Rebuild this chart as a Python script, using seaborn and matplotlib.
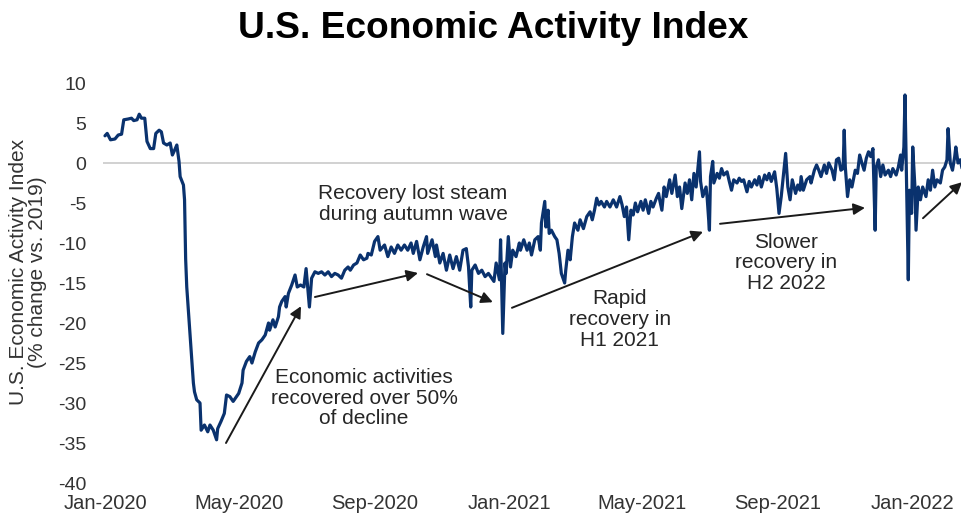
import pandas as pd
import matplotlib
matplotlib.use("Agg")
import matplotlib.pyplot as plt
import matplotlib.dates as mdates
import seaborn as sns

# Daily index, stored as day offsets from the series start and % change vs. 2019
SERIES_START = "2020-01-01"

day_offsets = [
    0, 2, 5, 9, 12, 15, 17, 21, 24, 26, 29, 31, 33, 36, 38, 41, 44, 46, 49, 51,
    53, 56, 59, 61, 63, 65, 67, 68, 71, 72, 73, 74, 75, 76, 77, 78, 79, 80, 81, 83,
    86, 87, 90, 93, 95, 98, 101, 102, 105, 108, 110, 113, 116, 121, 124, 125, 128, 131, 133, 136,
    139, 142, 145, 148, 149, 152, 154, 157, 158, 160, 163, 164, 166, 169, 172, 174, 177, 180, 182, 185,
    187, 190, 193, 196, 199, 202, 205, 208, 211, 214, 217, 220, 222, 225, 228, 231, 234, 237, 238, 241,
    244, 247, 249, 253, 256, 259, 262, 265, 268, 271, 274, 277, 279, 282, 285, 288, 291, 292, 296, 299,
    300, 303, 306, 309, 312, 315, 318, 321, 324, 327, 329, 331, 332, 335, 338, 341, 344, 347, 350, 352,
    354, 357, 358, 360, 362, 363, 365, 367, 369, 372, 375, 376, 379, 382, 384, 386, 389, 392, 394, 395,
    398, 399, 401, 402, 404, 407, 409, 411, 413, 416, 417, 419, 421, 423, 425, 428, 430, 433, 436, 439,
    441, 443, 445, 447, 449, 452, 454, 457, 460, 463, 466, 468, 470, 472, 474, 476, 478, 480, 482, 485,
    487, 489, 492, 494, 496, 499, 501, 502, 504, 506, 508, 511, 513, 516, 518, 520, 522, 525, 527, 529,
    531, 533, 535, 538, 539, 541, 544, 545, 547, 548, 550, 551, 554, 556, 558, 560, 563, 565, 567, 569,
    572, 574, 576, 578, 581, 583, 585, 588, 590, 592, 594, 597, 599, 601, 603, 606, 608, 610, 612, 614,
    616, 618, 620, 622, 625, 627, 629, 630, 632, 635, 638, 639, 642, 644, 646, 648, 651, 653, 655, 658,
    660, 662, 664, 666, 668, 669, 670, 672, 674, 676, 679, 681, 683, 685, 687, 689, 691, 693, 695, 697,
    698, 700, 702, 704, 706, 709, 711, 713, 716, 718, 720, 721, 723, 724, 725, 727, 728, 730, 731, 733,
    734, 736, 738, 740, 743, 745, 747, 749, 751, 753, 756, 758, 760, 762, 763, 765, 767, 769, 770, 772,
    774, 776, 778,
]

index_values = [
    3.4, 3.7, 2.9, 3.0, 3.5, 3.6, 5.4, 5.5, 5.6, 5.3, 5.4, 6.1, 5.6, 5.6, 2.7, 1.8, 1.8, 3.7, 4.1, 3.9,
    2.5, 2.25, 2.5, 1.0, 1.6, 2.25, 0.2, -1.7, -2.75, -4.6, -12.0, -15.5, -17.5, -19.5, -21.3, -23.5, -25.5, -27.5, -28.6, -29.6,
    -30.0, -33.4, -32.75, -33.6, -32.75, -33.4, -34.6, -33.2, -32.3, -31.3, -29.0, -29.2, -29.8, -28.8, -27.5, -25.9, -24.8, -24.2, -25.0, -23.6,
    -22.5, -22.1, -21.5, -20.0, -20.9, -19.6, -20.5, -19.2, -18.0, -17.3, -16.7, -18.0, -16.3, -15.25, -14.0, -15.5, -15.25, -15.5, -13.2, -18.0,
    -14.4, -13.6, -13.8, -13.6, -14.0, -13.6, -14.2, -13.8, -14.0, -14.4, -13.4, -13.0, -13.4, -12.75, -12.5, -11.5, -12.1, -11.9, -11.3, -11.5,
    -9.8, -9.2, -10.9, -10.25, -11.7, -10.5, -11.3, -10.25, -10.9, -10.25, -10.9, -10.0, -11.3, -9.8, -12.1, -10.5, -9.2, -11.3, -9.6, -11.7,
    -10.25, -12.5, -11.3, -13.4, -11.5, -13.2, -11.7, -13.4, -10.9, -10.7, -13.0, -18.0, -13.4, -12.75, -13.8, -13.4, -14.2, -13.8, -14.4, -14.8,
    -12.5, -14.6, -9.6, -21.3, -12.5, -13.8, -9.2, -13.0, -10.9, -11.7, -10.0, -10.9, -9.6, -10.9, -10.0, -11.5, -9.6, -9.2, -10.9, -7.5,
    -4.8, -8.0, -5.9, -8.8, -8.4, -9.2, -9.6, -11.3, -13.8, -15.0, -13.4, -10.9, -12.1, -9.2, -7.5, -8.4, -7.1, -8.2, -6.7, -6.1,
    -7.1, -5.9, -4.4, -5.25, -4.8, -5.5, -4.8, -5.5, -4.6, -5.5, -4.2, -5.25, -6.7, -5.5, -9.6, -5.9, -6.5, -5.0, -6.1, -4.8,
    -5.9, -4.6, -6.3, -4.8, -5.5, -4.4, -3.8, -4.6, -5.9, -3.0, -4.2, -2.1, -3.8, -1.5, -4.2, -3.0, -5.7, -2.5, -3.8, -2.1,
    -4.6, -1.3, -3.0, 1.4, -2.3, -4.2, -3.0, -4.4, -8.4, -1.7, 0.2, -2.5, -1.3, -1.9, -0.7, -1.5, -1.1, -2.3, -3.4, -2.1,
    -2.5, -1.9, -2.3, -2.1, -3.6, -2.3, -3.0, -2.1, -2.75, -1.7, -3.0, -1.5, -2.1, -1.3, -2.3, -1.1, -3.2, -6.3, -4.2, -1.5,
    1.2, -3.0, -4.6, -2.1, -3.8, -2.75, -3.4, -1.7, -3.4, -2.1, -1.7, -2.5, -0.9, -0.25, -0.9, -1.7, -0.25, -1.3, 0.0, -0.9,
    -2.1, 0.4, 0.6, -0.9, -0.7, 4.1, -0.5, -4.2, -2.1, -3.0, -0.9, -1.3, 1.0, 0.0, -0.9, 0.6, 1.4, 0.8, 1.8, -8.4,
    -0.5, 0.4, -1.7, -0.25, -1.5, -0.9, -1.7, -0.7, -1.5, -0.5, 1.0, -0.9, 2.0, 8.5, 0.8, -14.6, -3.4, -6.3, 2.0, -3.0,
    -8.4, -3.0, -4.6, -3.0, -4.2, -2.1, -3.4, -0.9, -3.0, -2.1, -2.5, -0.9, -0.5, 0.4, 4.3, 0.0, -0.9, 0.8, 2.0, 0.0,
    0.4, -0.9, -1.6,
]

y_ticks = [10, 5, 0, -5, -10, -15, -20, -25, -30, -35, -40]
tick_months = [1, 5, 9]

# Callouts: text with its anchor (day, value)
callout_texts = [
    "Economic activities\nrecovered over 50%\nof decline",
    "Recovery lost steam\nduring autumn wave",
    "Rapid\nrecovery in\nH1 2021",
    "Slower\nrecovery in\nH2 2022",
]
callout_days = [234.4, 278.7, 466.0, 616.3]
callout_values = [-29.4, -5.1, -19.6, -12.5]

# Arrows: tail (day, value) -> head (day, value)
arrow_tails = [(109.5, -35.0), (190.0, -16.75), (291.4, -13.9), (368.3, -18.1), (556.6, -7.6), (740.3, -6.9)]
arrow_heads = [(177.4, -17.9), (283.3, -13.75), (351.0, -17.4), (541.2, -8.6), (687.8, -5.6), (775.6, -2.4)]

sns.set_theme(style="white")
plt.rcParams["font.family"] = ["Liberation Sans", "DejaVu Sans"]
plt.rcParams["axes.unicode_minus"] = False

start = pd.Timestamp(SERIES_START)
df = pd.DataFrame({
    "date": start + pd.to_timedelta(day_offsets, unit="D"),
    "value": index_values,
})


def day_num(d):
    return mdates.date2num(start + pd.Timedelta(days=d))


W, H = 962, 515
fig = plt.figure(figsize=(W / 100, H / 100), dpi=100)
ax = fig.add_axes([103 / W, 32 / H, (W - 103) / W, 400 / H])

ax.axhline(0, color="#c9c9c9", lw=1.2, zorder=1)
sns.lineplot(data=df, x="date", y="value", ax=ax, color="#0a326e",
             lw=2.3, estimator=None, zorder=3)

ax.set_xlim(day_num(-1.8), day_num(775.6))
ax.set_ylim(-40, 10)
ax.set_yticks(y_ticks)
ax.xaxis.set_major_locator(mdates.MonthLocator(bymonth=tick_months))
ax.xaxis.set_major_formatter(mdates.DateFormatter("%b-%Y"))
ax.tick_params(axis="both", length=0, labelcolor="#333333")
ax.tick_params(axis="y", pad=12, labelsize=14)
ax.tick_params(axis="x", pad=8, labelsize=14.5)
ax.set_xlabel("")
ax.set_ylabel("")
for s in ax.spines.values():
    s.set_visible(False)

for txt, d, v in zip(callout_texts, callout_days, callout_values):
    ax.text(day_num(d), v, txt, ha="center", va="center", fontsize=15,
            linespacing=1.12, color="#262626", zorder=4)

for (td, tv), (hd, hv) in zip(arrow_tails, arrow_heads):
    ax.annotate("", xy=(day_num(hd), hv), xytext=(day_num(td), tv),
                arrowprops=dict(arrowstyle="-|>", color="#1a1a1a", lw=1.4,
                                mutation_scale=17, shrinkA=0, shrinkB=0),
                annotation_clip=False, zorder=4)

fig.text(493 / W, 1 - 38 / H, "U.S. Economic Activity Index", ha="center",
         va="baseline", fontsize=26.7, fontweight="bold", color="#000000")
fig.text(28 / W, 1 - 272 / H, "U.S. Economic Activity Index\n(% change vs. 2019)",
         rotation=90, ha="center", va="center", multialignment="center",
         fontsize=15, linespacing=0.98, color="#333333")

fig.savefig("out.png", dpi=100)
